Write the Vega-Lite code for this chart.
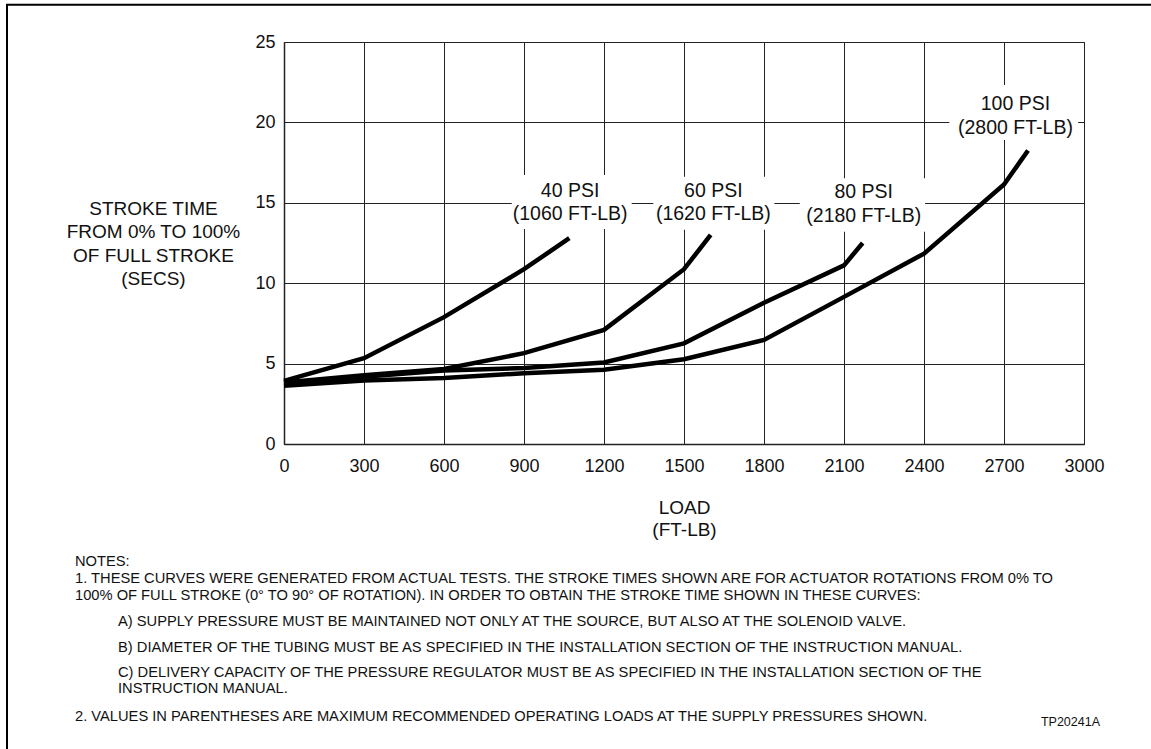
{
  "$schema": "https://vega.github.io/schema/vega-lite/v6.json",
  "width": 800,
  "height": 402,
  "autosize": {"type": "none"},
  "padding": {"left": 284, "top": 42, "right": 67, "bottom": 305},
  "background": "white",
  "config": {
    "font": "Liberation Sans",
    "view": {"stroke": "#111", "strokeWidth": 1},
    "text": {"font": "Liberation Sans", "color": "#111"}
  },
  "datasets": {
    "curves": [
      {"psi": "40 PSI", "load": 0, "time": 3.93},
      {"psi": "40 PSI", "load": 300, "time": 5.34},
      {"psi": "40 PSI", "load": 600, "time": 7.89},
      {"psi": "40 PSI", "load": 900, "time": 10.87},
      {"psi": "40 PSI", "load": 1070, "time": 12.8},
      {"psi": "60 PSI", "load": 0, "time": 3.83},
      {"psi": "60 PSI", "load": 300, "time": 4.28},
      {"psi": "60 PSI", "load": 600, "time": 4.66},
      {"psi": "60 PSI", "load": 900, "time": 5.65},
      {"psi": "60 PSI", "load": 1200, "time": 7.1},
      {"psi": "60 PSI", "load": 1500, "time": 10.87},
      {"psi": "60 PSI", "load": 1600, "time": 13.0},
      {"psi": "80 PSI", "load": 0, "time": 3.79},
      {"psi": "80 PSI", "load": 300, "time": 4.18},
      {"psi": "80 PSI", "load": 600, "time": 4.57},
      {"psi": "80 PSI", "load": 900, "time": 4.72},
      {"psi": "80 PSI", "load": 1200, "time": 5.07},
      {"psi": "80 PSI", "load": 1500, "time": 6.26},
      {"psi": "80 PSI", "load": 1800, "time": 8.78},
      {"psi": "80 PSI", "load": 2100, "time": 11.11},
      {"psi": "80 PSI", "load": 2170, "time": 12.5},
      {"psi": "100 PSI", "load": 0, "time": 3.62},
      {"psi": "100 PSI", "load": 300, "time": 3.95},
      {"psi": "100 PSI", "load": 600, "time": 4.1},
      {"psi": "100 PSI", "load": 900, "time": 4.4},
      {"psi": "100 PSI", "load": 1200, "time": 4.62},
      {"psi": "100 PSI", "load": 1500, "time": 5.27},
      {"psi": "100 PSI", "load": 1800, "time": 6.47},
      {"psi": "100 PSI", "load": 2100, "time": 9.15},
      {"psi": "100 PSI", "load": 2400, "time": 11.84},
      {"psi": "100 PSI", "load": 2700, "time": 16.14},
      {"psi": "100 PSI", "load": 2790, "time": 18.25}
    ],
    "labels": [
      {"psi": "40 PSI", "maxload": "(1060 FT-LB)", "lx": 1073, "ly": 15.38, "bx0": 854, "bx1": 1304, "by0": 13.37, "by1": 16.73},
      {"psi": "60 PSI", "maxload": "(1620 FT-LB)", "lx": 1610, "ly": 15.38, "bx0": 1385, "bx1": 1839, "by0": 13.32, "by1": 16.62},
      {"psi": "80 PSI", "maxload": "(2180 FT-LB)", "lx": 2174, "ly": 15.28, "bx0": 1934, "bx1": 2404, "by0": 13.2, "by1": 16.52},
      {"psi": "100 PSI", "maxload": "(2800 FT-LB)", "lx": 2743, "ly": 20.77, "bx0": 2495, "bx1": 2978, "by0": 18.9, "by1": 22.33}
    ]
  },
  "layer": [
    {
      "data": {"name": "curves"},
      "mark": {"type": "line", "color": "black", "strokeWidth": 4.5, "strokeJoin": "miter"},
      "encoding": {
        "x": {
          "field": "load",
          "type": "quantitative",
          "scale": {"domain": [0, 3000], "nice": false, "zero": false},
          "axis": {
            "values": [0, 300, 600, 900, 1200, 1500, 1800, 2100, 2400, 2700, 3000],
            "format": "d",
            "grid": true,
            "gridColor": "#222",
            "gridWidth": 1,
            "gridOpacity": 1,
            "ticks": false,
            "domain": true,
            "domainColor": "#222",
            "domainWidth": 1.5,
            "labelFont": "Liberation Sans",
            "labelFontSize": 18,
            "labelColor": "#111",
            "labelPadding": 13,
            "labelFlush": false,
            "labelOverlap": false,
            "title": ["LOAD", "(FT-LB)"],
            "titleFont": "Liberation Sans",
            "titleFontSize": 19,
            "titleFontWeight": "normal",
            "titleColor": "#111",
            "titleX": 400,
            "titleY": 69,
            "titleAlign": "center",
            "titleBaseline": "alphabetic",
            "titleLineHeight": 22.4
          }
        },
        "y": {
          "field": "time",
          "type": "quantitative",
          "scale": {"domain": [0, 25], "nice": false},
          "axis": {
            "values": [0, 5, 10, 15, 20, 25],
            "format": "d",
            "grid": true,
            "gridColor": "#222",
            "gridWidth": 1,
            "gridOpacity": 1,
            "ticks": false,
            "domain": true,
            "domainColor": "#222",
            "domainWidth": 1.5,
            "labelFont": "Liberation Sans",
            "labelFontSize": 18,
            "labelColor": "#111",
            "labelPadding": 9,
            "labelFlush": false,
            "labelOverlap": false,
            "title": ["STROKE TIME", "FROM 0% TO 100%", "OF FULL STROKE", "(SECS)"],
            "titleFont": "Liberation Sans",
            "titleFontSize": 19,
            "titleFontWeight": "normal",
            "titleColor": "#111",
            "titleAngle": 0,
            "titleX": -131,
            "titleY": 172,
            "titleAlign": "center",
            "titleBaseline": "alphabetic",
            "titleLineHeight": 23.5
          }
        },
        "detail": {"field": "psi", "type": "nominal"}
      }
    },
    {
      "data": {"name": "labels"},
      "mark": {"type": "rect", "fill": "white", "stroke": null},
      "encoding": {
        "x": {"field": "bx0", "type": "quantitative"},
        "x2": {"field": "bx1"},
        "y": {"field": "by0", "type": "quantitative"},
        "y2": {"field": "by1"}
      }
    },
    {
      "data": {"name": "labels"},
      "mark": {"type": "text", "align": "center", "baseline": "alphabetic", "fontSize": 19.5, "color": "#111"},
      "encoding": {
        "x": {"field": "lx", "type": "quantitative"},
        "y": {"field": "ly", "type": "quantitative"},
        "text": {"field": "psi", "type": "nominal"}
      }
    },
    {
      "data": {"name": "labels"},
      "mark": {"type": "text", "align": "center", "baseline": "alphabetic", "fontSize": 19.5, "dy": 23.5, "color": "#111"},
      "encoding": {
        "x": {"field": "lx", "type": "quantitative"},
        "y": {"field": "ly", "type": "quantitative"},
        "text": {"field": "maxload", "type": "nominal"}
      }
    },
    {
      "data": {"values": [{}]},
      "mark": {"type": "rect", "fill": null, "stroke": "black", "strokeWidth": 2, "clip": false},
      "encoding": {
        "x": {"datum": -1038.75},
        "x2": {"datum": 6000},
        "y": {"datum": 27.32},
        "y2": {"datum": -100}
      }
    },
    {
      "data": {"values": [{}]},
      "mark": {"type": "text", "align": "left", "baseline": "alphabetic", "fontSize": 14.7, "lineHeight": 17, "color": "#111",
        "text": ["NOTES:", "1. THESE CURVES WERE GENERATED FROM ACTUAL TESTS. THE STROKE TIMES SHOWN ARE FOR ACTUATOR ROTATIONS FROM 0% TO", "100% OF FULL STROKE (0° TO 90° OF ROTATION). IN ORDER TO OBTAIN THE STROKE TIME SHOWN IN THESE CURVES:"]},
      "encoding": {"x": {"datum": -783.75}, "y": {"datum": -7.59}}
    },
    {
      "data": {"values": [{}]},
      "mark": {"type": "text", "align": "left", "baseline": "alphabetic", "fontSize": 14.7, "color": "#111",
        "text": "A) SUPPLY PRESSURE MUST BE MAINTAINED NOT ONLY AT THE SOURCE, BUT ALSO AT THE SOLENOID VALVE."},
      "encoding": {"x": {"datum": -622.5}, "y": {"datum": -11.34}}
    },
    {
      "data": {"values": [{}]},
      "mark": {"type": "text", "align": "left", "baseline": "alphabetic", "fontSize": 14.7, "color": "#111",
        "text": "B) DIAMETER OF THE TUBING MUST BE AS SPECIFIED IN THE INSTALLATION SECTION OF THE INSTRUCTION MANUAL."},
      "encoding": {"x": {"datum": -622.5}, "y": {"datum": -12.92}}
    },
    {
      "data": {"values": [{}]},
      "mark": {"type": "text", "align": "left", "baseline": "alphabetic", "fontSize": 14.7, "lineHeight": 16.5, "color": "#111",
        "text": ["C) DELIVERY CAPACITY OF THE PRESSURE REGULATOR MUST BE AS SPECIFIED IN THE INSTALLATION SECTION OF THE", "INSTRUCTION MANUAL."]},
      "encoding": {"x": {"datum": -622.5}, "y": {"datum": -14.47}}
    },
    {
      "data": {"values": [{}]},
      "mark": {"type": "text", "align": "left", "baseline": "alphabetic", "fontSize": 14.7, "color": "#111",
        "text": "2. VALUES IN PARENTHESES ARE MAXIMUM RECOMMENDED OPERATING LOADS AT THE SUPPLY PRESSURES SHOWN."},
      "encoding": {"x": {"datum": -783.75}, "y": {"datum": -17.25}}
    },
    {
      "data": {"values": [{}]},
      "mark": {"type": "text", "align": "right", "baseline": "alphabetic", "fontSize": 12.5, "color": "#111", "text": "TP20241A"},
      "encoding": {"x": {"datum": 3060}, "y": {"datum": -17.54}}
    }
  ]
}
